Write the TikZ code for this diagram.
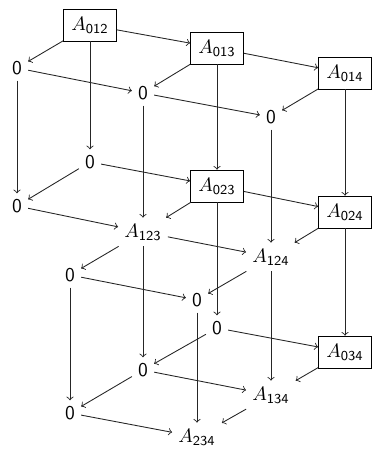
\documentclass[tikz,border=0pt]{standalone}
\usetikzlibrary{arrows}
\begin{document}
\begin{tikzpicture}[x=0.5128pt,y=-0.5128pt,
  box/.style={draw,inner sep=4pt,text=black},
  pt/.style={inner sep=3pt},
  ar/.style={->,draw=black!85,line width=0.45pt}]
\useasboundingbox (0,0) rectangle (375,450);
\node[box] (a012) at (90,25) {$A_{\mathsf{012}}$};
\node[box] (a013) at (217,48) {$A_{\mathsf{013}}$};
\node[box] (a014) at (345,73) {$A_{\mathsf{014}}$};
\node[pt] (z1) at (17,68) {$\mathsf{0}$};
\node[pt] (z2) at (143,93) {$\mathsf{0}$};
\node[pt] (z3) at (271,117) {$\mathsf{0}$};
\node[pt] (z4) at (90,162) {$\mathsf{0}$};
\node[box] (a023) at (217,186) {$A_{\mathsf{023}}$};
\node[box] (a024) at (345,212) {$A_{\mathsf{024}}$};
\node[pt] (z5) at (17,206) {$\mathsf{0}$};
\node[pt] (a123) at (143,232) {$A_{\mathsf{123}}$};
\node[pt] (a124) at (271,257) {$A_{\mathsf{124}}$};
\node[pt] (z6) at (70,275) {$\mathsf{0}$};
\node[pt] (z7) at (197,300) {$\mathsf{0}$};
\node[pt] (z8) at (217,328) {$\mathsf{0}$};
\node[box] (a034) at (345,352) {$A_{\mathsf{034}}$};
\node[pt] (z9) at (143,370) {$\mathsf{0}$};
\node[pt] (a134) at (271,395) {$A_{\mathsf{134}}$};
\node[pt] (z10) at (70,413) {$\mathsf{0}$};
\node[pt] (a234) at (197,437) {$A_{\mathsf{234}}$};
\foreach \s/\t in {a012/z1,a012/a013,a012/z4,a013/z2,a013/a014,a013/a023,
  a014/z3,a014/a024,z1/z2,z1/z5,z2/z3,z2/a123,z3/a124,z4/z5,z4/a023,
  a023/a123,a023/a024,a023/z8,a024/a124,a024/a034,z5/a123,a123/z6,
  a123/a124,a123/z9,a124/z7,a124/a134,z6/z7,z6/z10,z7/a234,z8/z9,
  z8/a034,a034/a134,z9/z10,z9/a134,a134/a234,z10/a234}
  \draw[ar] (\s) -- (\t);
\end{tikzpicture}
\end{document}
